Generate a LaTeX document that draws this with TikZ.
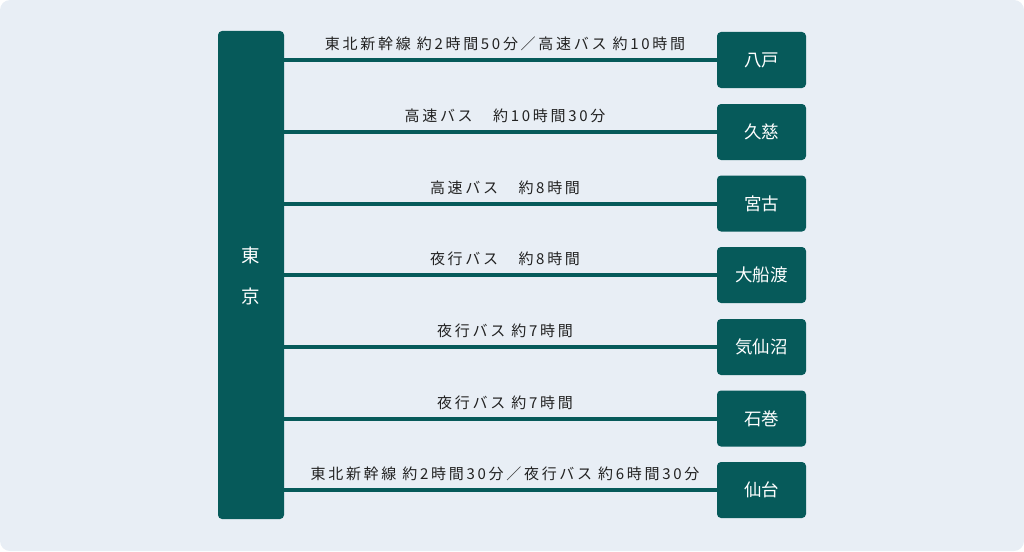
\documentclass[tikz,border=0pt]{standalone}
\usepackage{fontspec}
\newfontfamily\jp{Noto Sans CJK JP}
\newfontfamily\jpls[LetterSpace=18]{Noto Sans CJK JP}
\definecolor{teal}{HTML}{065A5A}
\definecolor{bgc}{HTML}{E8EEF5}
\definecolor{txt}{HTML}{222222}
\tikzset{
  dest/.style={fill=teal, rounded corners=4pt, minimum width=89pt, minimum height=56pt,
    inner sep=0pt, text=white, font=\jp\fontsize{17.5pt}{20pt}\selectfont},
  route/.style={draw=teal, line width=4pt},
  lbl/.style={text=txt, inner sep=0pt, font=\jpls\fontsize{15pt}{17pt}\selectfont},
}
\begin{document}
\begin{tikzpicture}[x=1pt,y=-1pt]
\useasboundingbox (0,0) rectangle (1024,551);
\fill[bgc, rounded corners=10pt] (0,0) rectangle (1024,551);
\node[fill=teal, rounded corners=4pt, minimum width=66pt, minimum height=488pt, inner sep=0pt] (tokyo) at (251,275) {};
\node[text=white, font=\jp\fontsize{18.5pt}{20pt}\selectfont, inner sep=0pt] (to) at (251,255) {東};
\node[text=white, font=\jp\fontsize{18.5pt}{20pt}\selectfont, inner sep=0pt] (kyo) at (251,296) {京};
\node[dest] (d1) at (761.5,60) {八戸};
\node[dest] (d2) at (761.5,132) {久慈};
\node[dest] (d3) at (761.5,203.5) {宮古};
\node[dest] (d4) at (761.5,275) {大船渡};
\node[dest] (d5) at (761.5,347) {気仙沼};
\node[dest] (d6) at (761.5,418.5) {石巻};
\node[dest] (d7) at (761.5,490) {仙台};
\foreach \i in {1,...,7}{
  \draw[route] (tokyo.east |- d\i.west) -- (d\i.west);
}
\node[lbl] (l1) at (505,44) {東北新幹線 約2時間50分／高速バス 約10時間};
\node[lbl] (l2) at (505,116) {高速バス　約10時間30分};
\node[lbl] (l3) at (505,187.5) {高速バス　約8時間};
\node[lbl] (l4) at (505,259) {夜行バス　約8時間};
\node[lbl] (l5) at (505,331) {夜行バス 約7時間};
\node[lbl] (l6) at (505,402.5) {夜行バス 約7時間};
\node[lbl] (l7) at (505,474) {東北新幹線 約2時間30分／夜行バス 約6時間30分};
\end{tikzpicture}
\end{document}
